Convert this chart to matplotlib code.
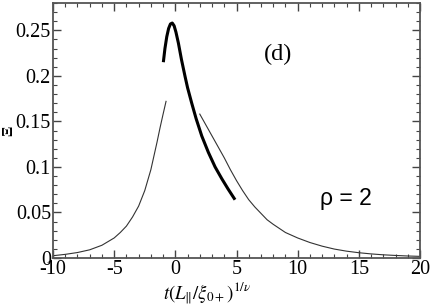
import matplotlib
matplotlib.use("Agg")
import matplotlib.pyplot as plt
from matplotlib.ticker import MultipleLocator

left_x = [-10, -9, -8, -7, -6, -5, -4.5, -4, -3.5, -3, -2.5, -2, -1.5, -1.25, -1.0, -0.76]
left_y = [0.0025, 0.004, 0.006, 0.009, 0.014, 0.022, 0.028, 0.035, 0.045, 0.057, 0.074, 0.097, 0.127, 0.143, 0.158, 0.172]

thick_x = [-0.98, -0.85, -0.7, -0.55, -0.4, -0.25, -0.1, 0.05, 0.25, 0.5, 0.8, 1.0, 1.34, 1.7, 2.16, 2.7, 3.25, 3.8, 4.3, 4.88]
thick_y = [0.215, 0.230, 0.243, 0.252, 0.257, 0.258, 0.255, 0.248, 0.236, 0.218, 0.199, 0.187, 0.170, 0.153, 0.134, 0.116, 0.100, 0.087, 0.076, 0.064]

right_x = [2.0, 2.5, 3.0, 3.5, 4.0, 4.5, 5.0, 5.5, 6.0, 6.5, 7.0, 7.5, 8.0, 9.0, 10.0, 11.0, 12.0, 13.0, 14.0, 15.0, 16.0, 17.0, 18.0, 19.0, 20.0]
right_y = [0.158, 0.146, 0.134, 0.122, 0.110, 0.097, 0.085, 0.074, 0.064, 0.056, 0.049, 0.042, 0.037, 0.028, 0.022, 0.017, 0.013, 0.0098, 0.0075, 0.0058, 0.0045, 0.0035, 0.0028, 0.0022, 0.0018]

plt.rcParams['mathtext.fontset'] = 'stix'
plt.rcParams['font.family'] = ['Liberation Serif', 'DejaVu Serif']

fig = plt.figure(figsize=(4.32, 3.07), dpi=100)
ax = fig.add_axes([53/432, 49/307, 367/432, 255/307])

ax.plot(left_x, left_y, color='#333333', lw=0.8)
ax.plot(right_x, right_y, color='#333333', lw=0.8)
ax.plot(thick_x, thick_y, color='black', lw=2.2, solid_capstyle='butt')

ax.set_xlim(-10, 20)
ax.set_ylim(0, 0.28)
ax.xaxis.set_minor_locator(MultipleLocator(1))
ax.yaxis.set_minor_locator(MultipleLocator(0.01))
ax.set_yticks([0, 0.05, 0.1, 0.15, 0.2, 0.25])
ax.set_yticklabels(['0', '0.05', '0.1', '0.15', '0.2', '0.25'])
ax.set_xticks([-10, -5, 0, 5, 10, 15, 20])
ax.set_xticklabels(['-10', '-5', '0', '5', '10', '15', '20'])
ax.tick_params(which='both', direction='in', top=True, right=True, labelsize=14.5, pad=1.5, color='#444444')
ax.tick_params(which='major', length=6, width=1)
ax.tick_params(which='minor', length=3, width=0.8)
for s in ax.spines.values():
    s.set_linewidth(1.3)
    s.set_color('#555555')

ax.set_xlabel(r'$t(L_{\|}/\xi_{0+})^{1/\nu}$', fontsize=13.5)
ax.xaxis.set_label_coords(0.42, -0.16, transform=ax.transAxes)
ax.xaxis.label.set_va('baseline')
ax.set_ylabel('Ξ', fontsize=11, fontweight='bold')
ax.yaxis.set_label_coords(-0.104, 0.5, transform=ax.transAxes)
ax.text(8.4, 0.224, '(d)', fontsize=17.5, ha='center', va='center')
ax.text(13.96, 0.065, 'ρ = 2', fontsize=16.5, ha='center', va='center', family=['Liberation Sans', 'DejaVu Sans'])

fig.savefig('out.png', dpi=100)
